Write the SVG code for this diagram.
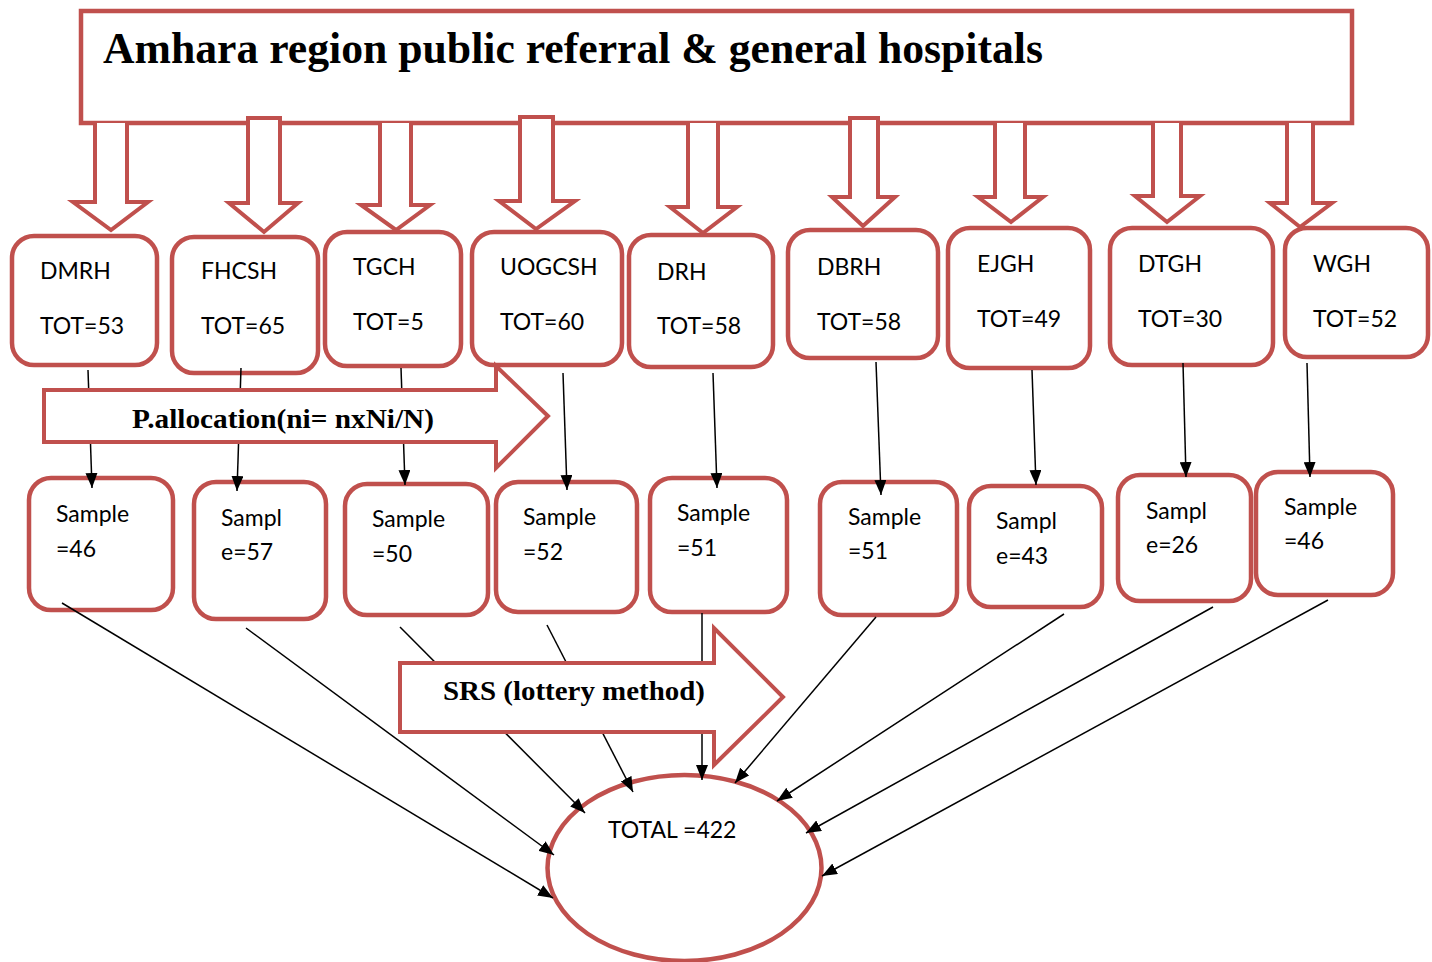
<svg xmlns="http://www.w3.org/2000/svg" width="1432" height="962" viewBox="0 0 1432 962">
<defs>
<style>
.box{fill:#fff;stroke:#C0504D;stroke-width:4.5}
.blk{fill:#fff;stroke:#C0504D;stroke-width:4;stroke-linejoin:miter}
.t{font-family:Lato,"Open Sans","Liberation Sans",sans-serif;font-size:23px;fill:#000}
.b{font-family:"Liberation Serif","Times New Roman",serif;font-weight:bold;fill:#000}
.ln{stroke:#000;stroke-width:1.5;fill:none;marker-end:url(#ah)}
</style>
<marker id="ah" markerUnits="userSpaceOnUse" markerWidth="15" markerHeight="12" refX="15" refY="6" orient="auto" viewBox="0 0 15 12">
<path d="M0,0 L15,6 L0,12 z" fill="#000"/>
</marker>
</defs>
<rect width="1432" height="962" fill="#fff"/>

<g id="top">
<rect class="box" x="81" y="11" width="1271" height="112" stroke-width="4"/>
<text class="b" x="103" y="63" font-size="44" textLength="940" lengthAdjust="spacingAndGlyphs">Amhara region public referral &amp; general hospitals</text>
</g>

<g id="DMRH"><rect class="box" x="12" y="236" width="145" height="129" rx="22"/><text class="t" x="40" y="279">DMRH</text><text class="t" x="40" y="334">TOT=53</text></g>
<g id="FHCSH"><rect class="box" x="172" y="237" width="146" height="136" rx="22"/><text class="t" x="201" y="279">FHCSH</text><text class="t" x="201" y="334">TOT=65</text></g>
<g id="TGCH"><rect class="box" x="325" y="232" width="136" height="134" rx="22"/><text class="t" x="353" y="275">TGCH</text><text class="t" x="353" y="330">TOT=5</text></g>
<g id="UOGCSH"><rect class="box" x="472" y="232" width="150" height="133" rx="22"/><text class="t" x="500" y="275">UOGCSH</text><text class="t" x="500" y="330">TOT=60</text></g>
<g id="DRH"><rect class="box" x="629" y="235" width="144" height="132" rx="22"/><text class="t" x="657" y="280">DRH</text><text class="t" x="657" y="334">TOT=58</text></g>
<g id="DBRH"><rect class="box" x="788" y="230" width="150" height="128" rx="22"/><text class="t" x="817" y="275">DBRH</text><text class="t" x="817" y="330">TOT=58</text></g>
<g id="EJGH"><rect class="box" x="948" y="228" width="142" height="140" rx="22"/><text class="t" x="977" y="272">EJGH</text><text class="t" x="977" y="327">TOT=49</text></g>
<g id="DTGH"><rect class="box" x="1110" y="228" width="163" height="137" rx="22"/><text class="t" x="1138" y="272">DTGH</text><text class="t" x="1138" y="327">TOT=30</text></g>
<g id="WGH"><rect class="box" x="1285" y="228" width="143" height="129" rx="22"/><text class="t" x="1313" y="272">WGH</text><text class="t" x="1313" y="327">TOT=52</text></g>

<g id="S1"><rect class="box" x="29" y="478" width="144" height="132" rx="22"/><text class="t" x="56" y="522">Sample</text><text class="t" x="56" y="557">=46</text></g>
<g id="S2"><rect class="box" x="194" y="482" width="132" height="137" rx="22"/><text class="t" x="221" y="526">Sampl</text><text class="t" x="221" y="560">e=57</text></g>
<g id="S3"><rect class="box" x="345" y="484" width="143" height="131" rx="22"/><text class="t" x="372" y="527">Sample</text><text class="t" x="372" y="562">=50</text></g>
<g id="S4"><rect class="box" x="496" y="482" width="141" height="130" rx="22"/><text class="t" x="523" y="525">Sample</text><text class="t" x="523" y="560">=52</text></g>
<g id="S5"><rect class="box" x="650" y="478" width="137" height="134" rx="22"/><text class="t" x="677" y="521">Sample</text><text class="t" x="677" y="556">=51</text></g>
<g id="S6"><rect class="box" x="820" y="482" width="137" height="133" rx="22"/><text class="t" x="848" y="525">Sample</text><text class="t" x="848" y="559">=51</text></g>
<g id="S7"><rect class="box" x="969" y="486" width="133" height="121" rx="22"/><text class="t" x="996" y="529">Sampl</text><text class="t" x="996" y="564">e=43</text></g>
<g id="S8"><rect class="box" x="1118" y="475" width="133" height="126" rx="22"/><text class="t" x="1146" y="519">Sampl</text><text class="t" x="1146" y="553">e=26</text></g>
<g id="S9"><rect class="box" x="1256" y="472" width="137" height="123" rx="22"/><text class="t" x="1284" y="515">Sample</text><text class="t" x="1284" y="549">=46</text></g>

<g id="total"><ellipse class="box" cx="684.5" cy="868" rx="137" ry="93"/><text class="t" x="608" y="838">TOTAL =422</text></g>

<g id="connectors">
<path class="blk" d="M95,123 V202 H73 L111,230 L148,202 H127 V123"/>
<path class="blk" d="M248,118 V203 H229 L264,232 L298,203 H280 V118 Z"/>
<path class="blk" d="M380,123 V205 H361 L396,230 L430,205 H411 V123"/>
<path class="blk" d="M520,117 V201 H499 L536,229 L575,201 H553 V117 Z"/>
<path class="blk" d="M688,123 V207 H670 L703,233 L737,207 H718 V123"/>
<path class="blk" d="M850,118 V197 H832 L863,226 L895,197 H878 V118 Z"/>
<path class="blk" d="M995,123 V197 H978 L1011,222 L1043,197 H1025 V123"/>
<path class="blk" d="M1153,123 V196 H1135 L1167,222 L1200,196 H1181 V123"/>
<path class="blk" d="M1287,123 V203 H1270 L1300,227 L1332,203 H1313 V123"/>

<line class="ln" x1="88" y1="370" x2="92" y2="488"/>
<line class="ln" x1="241" y1="368" x2="237" y2="491"/>
<line class="ln" x1="401" y1="368" x2="405" y2="485"/>
<line class="ln" x1="563" y1="373" x2="567" y2="490"/>
<line class="ln" x1="713" y1="373" x2="717" y2="488"/>
<line class="ln" x1="876" y1="362" x2="881" y2="495"/>
<line class="ln" x1="1032" y1="370" x2="1036" y2="485"/>
<line class="ln" x1="1183" y1="363" x2="1186" y2="477"/>
<line class="ln" x1="1307" y1="363" x2="1310" y2="477"/>

<line class="ln" x1="62" y1="603" x2="553" y2="898"/>
<line class="ln" x1="246" y1="628" x2="554" y2="855"/>
<line class="ln" x1="400" y1="627" x2="585" y2="813"/>
<line class="ln" x1="547" y1="625" x2="633" y2="792"/>
<line class="ln" x1="702" y1="613" x2="702" y2="780"/>
<line class="ln" x1="876" y1="617" x2="735" y2="783"/>
<line class="ln" x1="1064" y1="614" x2="777" y2="801"/>
<line class="ln" x1="1213" y1="607" x2="806" y2="833"/>
<line class="ln" x1="1328" y1="600" x2="822" y2="876"/>
</g>

<g id="palloc">
<path class="blk" d="M44,390 H496 V366 L548,416 L496,468 V442 H44 Z"/>
<text class="b" x="132" y="428" font-size="28" textLength="302" lengthAdjust="spacingAndGlyphs">P.allocation(ni= nxNi/N)</text>
</g>

<g id="srs">
<path class="blk" d="M400,663 H714 V628 L783,697 L714,765 V732 H400 Z"/>
<text class="b" x="443" y="700" font-size="28" textLength="262" lengthAdjust="spacingAndGlyphs">SRS (lottery method)</text>
</g>
</svg>
